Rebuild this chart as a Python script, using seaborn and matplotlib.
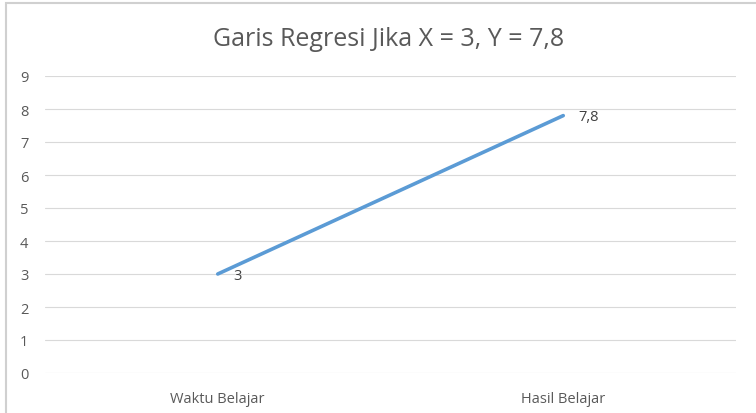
import matplotlib
matplotlib.use("Agg")
import matplotlib.pyplot as plt
import seaborn as sns
import pandas as pd
from matplotlib.patches import Rectangle

categories = ["Waktu Belajar", "Hasil Belajar"]
values = [3, 7.8]
labels = ["3", "7,8"]
title = "Garis Regresi Jika X = 3, Y = 7,8"

sns.set_style("white")
plt.rcParams['font.family'] = ['Open Sans', 'DejaVu Sans']

df = pd.DataFrame({"cat": categories, "val": values})
df["x"] = range(len(categories))

fig = plt.figure(figsize=(7.56, 4.14), dpi=100)
ax = fig.add_axes([45/756, 1-374/414, (736-45)/756, (374-77)/414])

# outer border like chart area
fig.patches.append(Rectangle((5.5/756, -0.1), 1.2, (1-3.5/414)+0.1, transform=fig.transFigure,
                             fill=False, edgecolor="#d0d0d0", linewidth=1.5))

sns.lineplot(data=df, x="x", y="val", ax=ax, color="#5B9BD5", linewidth=2.6, solid_capstyle="round")

for xi, v, lab in zip(df["x"], values, labels):
    ax.annotate(lab, (xi, v), xytext=(11, -1), textcoords="offset points",
                ha="left", va="center", fontsize=10.5, color="#404040")

ax.set_xlim(-0.5, 1.5)
ax.set_ylim(0, 9)
ax.set_yticks(range(0, 10))
ax.set_xticks(df["x"])
ax.set_xticklabels(categories)
ax.yaxis.grid(True, color="#d9d9d9", linewidth=0.8)
ax.set_axisbelow(True)
for s in ax.spines.values():
    s.set_visible(False)
ax.tick_params(axis="both", length=0, colors="#595959", labelsize=10.5)
ax.tick_params(axis="y", pad=12)
ax.tick_params(axis="x", pad=13)
ax.set_xlabel("")
ax.set_ylabel("")

fig.text(389/756, 1-40/414, title, ha="center", va="center", fontsize=18, color="#595959")

fig.savefig("out.png", dpi=100)
